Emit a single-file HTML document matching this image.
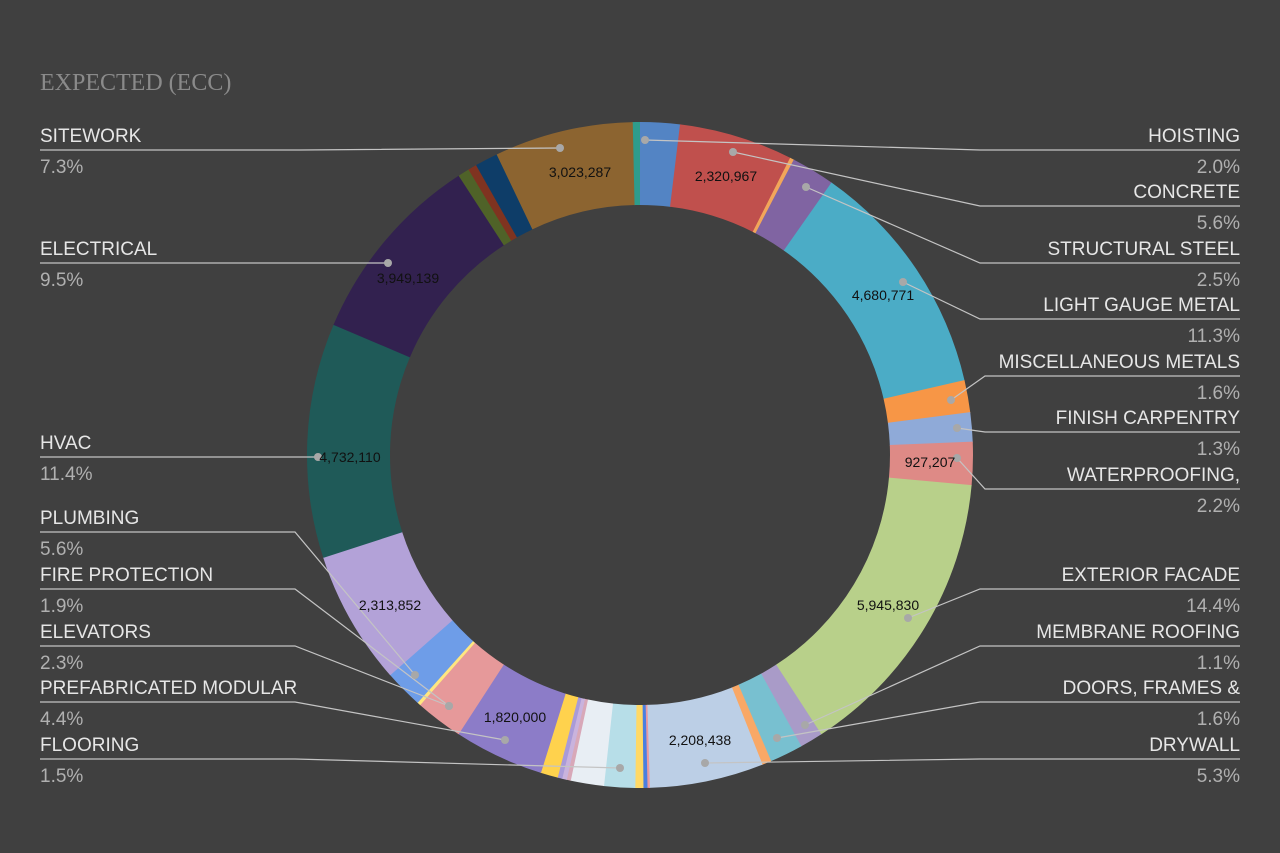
<!DOCTYPE html>
<html><head><meta charset="utf-8"><style>
html,body{margin:0;padding:0;background:#404040;}
svg{display:block;}
</style></head><body>
<svg id="s" width="1280" height="853" xmlns="http://www.w3.org/2000/svg">
<rect width="1280" height="853" fill="#404040"/>
<g id="arcs"></g>
<g id="lines" stroke="#c4c4c4" stroke-width="1.2" fill="none"></g>
<g id="dots" fill="#a8a8a8"></g>
<text x="40" y="90" font-family="Liberation Serif, serif" font-size="24" fill="#8a8a8a">EXPECTED (ECC)</text>
<g id="labels" font-family="Liberation Sans, sans-serif" font-size="19"></g>
<g id="vals" font-family="Liberation Sans, sans-serif" font-size="14" fill="#111"></g>
</svg>
<script>
var cx=640,cy=455,R=333,r=250;
var segs=[
[-1.4,0,"#2e9c8c"],[0,6.9,"#5384c4"],[6.9,26.8,"#c0504d"],[26.8,27.5,"#f2a65a"],[27.5,35.1,"#8064a2"],
[35.1,77,"#4bacc6"],[77,82.6,"#f79646"],[82.6,87.7,"#8faad8"],[87.7,95.2,"#de8a86"],
[95.2,147,"#b8d08a"],[147,151,"#a99bc8"],[151,156.8,"#78c0d0"],[156.8,158.4,"#f9a866"],
[158.4,178.3,"#bccfe6"],[178.3,178.7,"#e89aa0"],[178.7,179.4,"#4a7fe0"],[179.4,180.8,"#ffd966"],
[180.8,186.2,"#b7dee8"],[186.2,192,"#e8eef4"],[192,192.7,"#d8a8b8"],[192.7,193.5,"#c9b3dd"],[193.5,194.3,"#a99bd8"],
[194.3,197.3,"#ffd24d"],[197.3,213,"#8c7cc8"],[213,221.3,"#e6999a"],[221.3,221.9,"#ffe680"],
[221.9,228.6,"#6e9de8"],[228.6,252,"#b3a2d8"],[252,293,"#1f5a58"],[293,327,"#32214f"],
[327,329,"#4f6228"],[329,330.5,"#7f3320"],[330.5,334.5,"#0e3d68"],[334.5,358.6,"#8c6430"]
];
function pt(a,rad){a=a*Math.PI/180;return [cx+rad*Math.sin(a),cy-rad*Math.cos(a)];}
var h="";
segs.forEach(function(s){var a=s[0],b=s[1]+0.15,l=(b-a)>180?1:0;
var p1=pt(a,R),p2=pt(b,R),p3=pt(b,r),p4=pt(a,r);
h+='<path fill="'+s[2]+'" d="M'+p1+' A'+R+' '+R+' 0 '+l+' 1 '+p2+' L'+p3+' A'+r+' '+r+' 0 '+l+' 0 '+p4+'Z"/>';});
document.getElementById("arcs").innerHTML=h;
var L=[
["HOISTING","2.0%",150,1,[645,140]],["CONCRETE","5.6%",206,1,[733,152]],["STRUCTURAL STEEL","2.5%",263,1,[806,187]],
["LIGHT GAUGE METAL","11.3%",319,1,[903,282]],["MISCELLANEOUS METALS","1.6%",376,1,[951,400]],["FINISH CARPENTRY","1.3%",432,1,[957,428]],
["WATERPROOFING,","2.2%",489,1,[957,458]],["EXTERIOR FACADE","14.4%",589,1,[908,618]],["MEMBRANE ROOFING","1.1%",646,1,[805,725]],
["DOORS, FRAMES &amp;","1.6%",702,1,[777,738]],["DRYWALL","5.3%",759,1,[705,763]],
["SITEWORK","7.3%",150,0,[560,148]],["ELECTRICAL","9.5%",263,0,[388,263]],["HVAC","11.4%",457,0,[318,457]],
["PLUMBING","5.6%",532,0,[415,675]],["FIRE PROTECTION","1.9%",589,0,[449,706]],["ELEVATORS","2.3%",646,0,[449,706]],
["PREFABRICATED MODULAR","4.4%",702,0,[505,740]],["FLOORING","1.5%",759,0,[620,768]]
];
var lh="",dh="",th="";
L.forEach(function(o){var y=o[2],d=o[4];
if(o[3]){var xe=(o[0]=="MISCELLANEOUS METALS"||o[0]=="WATERPROOFING,"||o[0]=="FINISH CARPENTRY")?985:980;
lh+='<polyline points="1240,'+y+' '+xe+','+y+' '+d[0]+','+d[1]+'"/>';
th+='<text x="1240" y="'+(y-8)+'" text-anchor="end" fill="#e6e6e6">'+o[0]+'</text><text x="1240" y="'+(y+23)+'" text-anchor="end" fill="#b0b0b0">'+o[1]+'</text>';}
else{var xs=(o[0]=="SITEWORK"||o[0]=="ELECTRICAL"||o[0]=="HVAC")?300:295;
lh+='<polyline points="40,'+y+' '+xs+','+y+' '+d[0]+','+d[1]+'"/>';
th+='<text x="40" y="'+(y-8)+'" fill="#e6e6e6">'+o[0]+'</text><text x="40" y="'+(y+23)+'" fill="#b0b0b0">'+o[1]+'</text>';}
dh+='<circle cx="'+d[0]+'" cy="'+d[1]+'" r="4"/>';});
document.getElementById("lines").innerHTML=lh;
document.getElementById("dots").innerHTML=dh;
document.getElementById("labels").innerHTML=th;
var V=[["3,023,287",580,177],["2,320,967",726,181],["3,949,139",408,283],["4,680,771",883,300],["927,207",930,467],
["4,732,110",350,462],["5,945,830",888,610],["2,313,852",390,610],["1,820,000",515,722],["2,208,438",700,745]];
document.getElementById("vals").innerHTML=V.map(function(v){return '<text x="'+v[1]+'" y="'+v[2]+'" text-anchor="middle">'+v[0]+'</text>';}).join("");
</script>
</body></html>
